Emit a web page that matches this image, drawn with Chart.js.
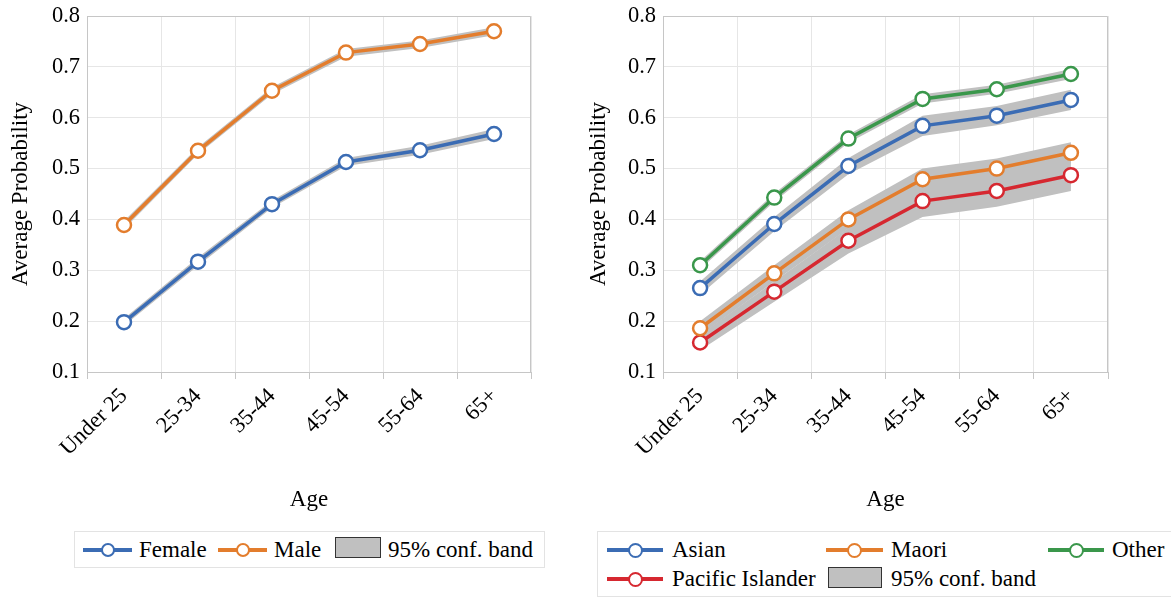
<!DOCTYPE html>
<html><head><meta charset="utf-8">
<script src="https://cdn.jsdelivr.net/npm/chart.js@4.4.0/dist/chart.umd.min.js"></script>
<style>
html,body{margin:0;padding:0;background:#fff;}
body{width:1171px;height:597px;overflow:hidden;position:relative;font-family:"Liberation Serif","DejaVu Serif","Noto Serif",Times,serif;}
canvas{position:absolute;top:0;}
#c1{left:0;} #c2{left:578px;}
.lg{position:absolute;border:1px solid #e3e3e3;box-sizing:border-box;background:#fff;}
.sym{position:absolute;height:20px;}
.sym .ln{position:absolute;left:0;right:0;top:8px;height:4px;}
.sym .dot{position:absolute;top:50%;border-style:solid;border-radius:50%;background:#fff;box-sizing:border-box;}
.txt{position:absolute;font-size:23px;line-height:26px;height:26px;color:#000;white-space:nowrap;}
.band{position:absolute;background:#c0c0c0;border:1px solid #333;box-sizing:border-box;}
</style></head>
<body>
<canvas id="c1" width="560" height="520"></canvas>
<canvas id="c2" width="593" height="520"></canvas>
<div class="lg" style="left:74px;top:531px;width:471px;height:37px;"></div>
<div class="lg" style="left:597px;top:531px;width:620px;height:66px;"></div>
<script>
// ---- data ----
const ageLabels = ['Under 25', '25-34', '35-44', '45-54', '55-64', '65+'];
const yTickLabels = ['0.1', '0.2', '0.3', '0.4', '0.5', '0.6', '0.7', '0.8'];
const xTitle = 'Age';
const yTitle = 'Average Probability';
const bandLabel = '95% conf. band';

const genderNames = ['Female', 'Male'];
const female      = [0.198, 0.317, 0.430, 0.513, 0.536, 0.568];
const femaleLow   = [0.191, 0.309, 0.423, 0.505, 0.527, 0.558];
const femaleHigh  = [0.205, 0.325, 0.437, 0.521, 0.545, 0.578];
const male        = [0.389, 0.535, 0.653, 0.728, 0.745, 0.770];
const maleLow     = [0.381, 0.528, 0.646, 0.720, 0.737, 0.762];
const maleHigh    = [0.397, 0.542, 0.660, 0.735, 0.752, 0.778];

const ethnicNames = ['Asian', 'Maori', 'Other', 'Pacific Islander'];
const asian       = [0.265, 0.391, 0.505, 0.584, 0.604, 0.635];
const asianLow    = [0.252, 0.377, 0.489, 0.564, 0.585, 0.615];
const asianHigh   = [0.278, 0.405, 0.521, 0.604, 0.623, 0.655];
const maori       = [0.186, 0.294, 0.400, 0.479, 0.500, 0.531];
const maoriLow    = [0.172, 0.278, 0.382, 0.458, 0.480, 0.510];
const maoriHigh   = [0.200, 0.310, 0.418, 0.500, 0.520, 0.552];
const other       = [0.310, 0.443, 0.559, 0.637, 0.656, 0.686];
const otherLow    = [0.302, 0.435, 0.551, 0.628, 0.647, 0.676];
const otherHigh   = [0.318, 0.451, 0.567, 0.646, 0.665, 0.696];
const pacific     = [0.158, 0.258, 0.358, 0.436, 0.456, 0.487];
const pacificLow  = [0.143, 0.238, 0.333, 0.405, 0.425, 0.456];
const pacificHigh = [0.173, 0.278, 0.383, 0.467, 0.487, 0.518];

// ---- styles ----
const BLUE = '#3b6cb4', ORANGE = '#e37d2d', GREEN = '#3a974b', RED = '#d62830';
const BANDC = '#c0c0c0', GRID = '#e6e6e6', FRAME = '#c6c6c6';
const FONT = '"Liberation Serif", "DejaVu Serif", "Noto Serif", Times, serif';

function band(lo, hi) {
  return [
    {data: hi, fill: '+1', backgroundColor: BANDC, borderColor: 'rgba(0,0,0,0)', borderWidth: 0, pointRadius: 0, order: 10, tension: 0},
    {data: lo, fill: false, backgroundColor: BANDC, borderColor: 'rgba(0,0,0,0)', borderWidth: 0, pointRadius: 0, order: 11, tension: 0}
  ];
}
function line(label, data, color) {
  return {label, data, borderColor: color, backgroundColor: '#fff', borderWidth: 3.5,
    pointRadius: 7, pointBorderWidth: 2.5, pointBackgroundColor: '#fff', pointBorderColor: color,
    fill: false, order: 1, tension: 0};
}
const framePlugin = {
  id: 'frame',
  beforeDatasetsDraw(chart) {
    const a = chart.chartArea, ctx = chart.ctx;
    ctx.save();
    ctx.strokeStyle = FRAME; ctx.lineWidth = 1;
    ctx.beginPath();
    ctx.moveTo(Math.round(a.left) + 0.5, Math.round(a.top) + 0.5);
    ctx.lineTo(Math.round(a.right) - 0.5, Math.round(a.top) + 0.5);
    ctx.lineTo(Math.round(a.right) - 0.5, Math.round(a.bottom));
    ctx.stroke();
    ctx.restore();
  }
};
function opts(yWidth, padRight) {
  return {
    responsive: false, animation: false,
    layout: {padding: {left: 0, top: 16, right: padRight, bottom: 0}},
    plugins: {legend: {display: false}, tooltip: {enabled: false}},
    scales: {
      x: {
        type: 'category', offset: true,
        grid: {offset: true, color: GRID, tickColor: FRAME, tickLength: 7, drawTicks: true},
        border: {color: FRAME},
        ticks: {minRotation: 45, maxRotation: 45, padding: 4, color: '#000', font: {family: FONT, size: 22.5}},
        title: {display: true, text: xTitle, color: '#000', font: {family: FONT, size: 23}, padding: {top: 0, bottom: 6}},
        afterFit(s) { s.height = 148; }
      },
      y: {
        min: 0.1, max: 0.8,
        grid: {color: GRID, drawTicks: false},
        border: {color: FRAME},
        ticks: {stepSize: 0.1, padding: 7, color: '#000', font: {family: FONT, size: 22.5},
          callback: (v, i) => yTickLabels[i]},
        title: {display: true, text: yTitle, color: '#000', font: {family: FONT, size: 23}, padding: {top: 7, bottom: 0}},
        afterFit(s) { s.width = yWidth; s.paddingTop = 0; s.paddingBottom = 0; }
      }
    }
  };
}

new Chart(document.getElementById('c1'), {
  type: 'line',
  data: {labels: ageLabels, datasets: [
    ...band(femaleLow, femaleHigh), ...band(maleLow, maleHigh),
    line(genderNames[0], female, BLUE), line(genderNames[1], male, ORANGE)
  ]},
  options: opts(87, 29),
  plugins: [framePlugin]
});
new Chart(document.getElementById('c2'), {
  type: 'line',
  data: {labels: ageLabels, datasets: [
    ...band(asianLow, asianHigh), ...band(maoriLow, maoriHigh),
    ...band(otherLow, otherHigh), ...band(pacificLow, pacificHigh),
    line(ethnicNames[0], asian, BLUE), line(ethnicNames[1], maori, ORANGE),
    line(ethnicNames[2], other, GREEN), line(ethnicNames[3], pacific, RED)
  ]},
  options: opts(85, 63),
  plugins: [framePlugin]
});

// ---- HTML legends ----
function addSym(x, w, cy, color, dotD) {
  const d = document.createElement('div'); d.className = 'sym';
  d.style.left = x + 'px'; d.style.top = (cy - 10) + 'px'; d.style.width = w + 'px';
  const bw = dotD > 14 ? 2.5 : 2;
  d.innerHTML = '<div class="ln" style="background:' + color + '"></div>' +
    '<div class="dot" style="border-color:' + color + ';border-width:' + bw + 'px;width:' + dotD + 'px;height:' + dotD +
    'px;left:' + (w / 2 - dotD / 2) + 'px;margin-top:' + (-dotD / 2) + 'px"></div>';
  document.body.appendChild(d);
}
function addText(x, cy, t) {
  const d = document.createElement('div'); d.className = 'txt';
  d.style.left = x + 'px'; d.style.top = (cy - 13) + 'px'; d.textContent = t;
  document.body.appendChild(d);
}
function addBand(x, y, w, h) {
  const d = document.createElement('div'); d.className = 'band';
  d.style.left = x + 'px'; d.style.top = y + 'px'; d.style.width = w + 'px'; d.style.height = h + 'px';
  document.body.appendChild(d);
}
// left legend
addSym(83, 49, 550, BLUE, 14); addText(139, 550, genderNames[0]);
addSym(218, 49, 550, ORANGE, 14); addText(274, 550, genderNames[1]);
addBand(335, 537, 46, 21); addText(388, 550, bandLabel);
// right legend
addSym(607, 56, 550, BLUE, 15); addText(672, 550, ethnicNames[0]);
addSym(826, 57, 550, ORANGE, 15); addText(891, 550, ethnicNames[1]);
addSym(1048, 56, 550, GREEN, 15); addText(1112, 550, ethnicNames[2]);
addSym(607, 56, 579, RED, 15); addText(672, 579, ethnicNames[3]);
addBand(828, 567, 54, 21); addText(891, 579, bandLabel);
</script>
</body></html>
